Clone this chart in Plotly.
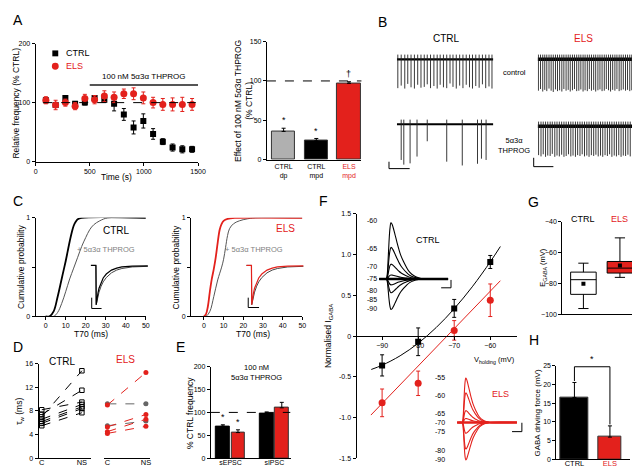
import plotly.graph_objects as go

W, H = 640, 468
RED = '#e3211c'
GRAY = '#7f7f7f'
FONT = 'Liberation Sans, Arial, sans-serif'

# ---------------- DATA ----------------
# A (left): relative frequency time course
timeA = [95, 185, 275, 365, 455, 545, 635, 725, 815, 905, 995, 1085, 1175, 1265, 1355, 1445]
ctrlA = [104, 96, 108, 98, 100, 108, 105, 98, 80, 58, 69, 47, 34, 24, 21, 21]
ctrlA_err = [4, 4, 3, 4, 4, 4, 4, 12, 10, 11, 12, 9, 5, 6, 6, 5]
elsA = [104, 96, 100, 94, 107, 105, 111, 109, 115, 115, 108, 100, 97, 97, 97, 97]
elsA_err = [6, 8, 6, 6, 7, 7, 9, 9, 8, 10, 10, 9, 10, 11, 12, 10]

# A (right): effect of THPROG
effect_cats = ['CTRL<br>dp', 'CTRL<br>mpd', '<span style="color:%s">ELS<br>mpd</span>' % RED]
effect_vals = [36, 24, 97]
effect_err = [4, 3, 2]
effect_marks = ['*', '*', '†']

# B: spike times (s) and trough depths (mV, relative to baseline)
ctrl_ctl_t = [0.10, 0.45, 0.82, 1.13, 1.47, 1.82, 2.16, 2.50, 2.84, 3.15, 3.49, 3.84, 4.18, 4.49, 4.83,
              5.17, 5.51, 5.82, 6.16, 6.51, 6.85, 7.19, 7.53, 7.84, 8.18, 8.53, 8.87, 9.21, 9.55, 9.86]
ctrl_ctl_d = [-6.8, -6.2, -6.9, -5.8, -6.6, -6.9, -6.0, -6.7, -6.5, -5.9, -6.8, -6.3, -6.9, -6.0, -6.6,
              -6.8, -5.7, -6.5, -6.9, -6.2, -6.8, -6.0, -6.6, -6.9, -6.3, -6.7, -5.9, -6.8, -6.4, -6.9]
ctrl_thp_t = [0.45, 0.72, 1.37, 2.09, 3.15, 5.17, 6.78, 8.36, 8.77, 9.25]
ctrl_thp_d = [-8.4, -9.5, -9.2, -7.6, -4.0, -8.8, -9.7, -9.3, -8.1, -8.4]
els_ctl_t = [0.08, 0.30, 0.53, 0.74, 0.95, 1.18, 1.40, 1.62, 1.85, 2.06, 2.28, 2.51, 2.72, 2.95, 3.17,
             3.38, 3.61, 3.82, 4.05, 4.27, 4.48, 4.71, 4.92, 5.15, 5.36, 5.58, 5.81, 6.02, 6.25, 6.46,
             6.68, 6.91, 7.12, 7.35, 7.56, 7.78, 8.01, 8.22, 8.45, 8.66, 8.88, 9.11, 9.32, 9.55, 9.76]
els_ctl_d = [-7.4, -7.0, -7.6, -7.2, -7.5, -6.9, -7.4, -7.7, -7.1, -7.5, -7.3, -7.6, -7.0, -7.4, -7.2,
             -7.6, -7.3, -7.0, -7.5, -7.4, -7.1, -7.6, -7.3, -7.5, -7.0, -7.4, -7.2, -7.6, -7.3, -7.1,
             -7.5, -7.4, -7.0, -7.3, -7.6, -7.2, -7.4, -7.0, -7.5, -7.3, -7.1, -7.4, -7.2, -7.5, -7.3]
els_thp_t = [0.10, 0.35, 0.58, 0.82, 1.05, 1.30, 1.52, 1.78, 2.01, 2.25, 2.49, 2.73, 2.96, 3.20, 3.44,
             3.67, 3.92, 4.15, 4.39, 4.62, 4.86, 5.10, 5.33, 5.57, 5.81, 6.04, 6.28, 6.52, 6.75, 6.99,
             7.23, 7.46, 7.70, 7.94, 8.17, 8.41, 8.65, 8.88, 9.12, 9.36, 9.60]
els_thp_d = [-6.8, -7.1, -6.6, -7.2, -6.9, -7.0, -6.5, -7.2, -6.9, -7.1, -6.7, -7.2, -7.0, -6.6, -7.1,
             -6.9, -7.2, -6.8, -7.0, -6.6, -7.1, -6.9, -7.2, -6.8, -7.0, -6.7, -7.1, -6.9, -7.2, -6.8,
             -7.0, -6.6, -7.2, -6.9, -7.1, -6.8, -7.2, -6.9, -7.0, -6.7, -7.1]

# C: cumulative T70 distributions
c_ctrl_t = [0, 2, 4, 6, 8, 9, 10, 11, 12, 13, 14, 15, 16, 18, 50]
c_ctrl_p = [0, 0, 0.05, 0.2, 0.38, 0.47, 0.56, 0.66, 0.76, 0.85, 0.92, 0.96, 0.985, 1, 1]
c_ctrl_thp_t = [0, 4, 6, 8, 10, 12, 14, 16, 18, 20, 22, 24, 27, 31, 50]
c_ctrl_thp_p = [0, 0, 0.04, 0.13, 0.25, 0.38, 0.49, 0.6, 0.71, 0.8, 0.88, 0.93, 0.97, 1, 1]
c_els_t = [0, 1, 2, 3, 4, 5, 6, 7, 8, 9, 10, 12, 16, 50]
c_els_p = [0, 0.02, 0.1, 0.25, 0.38, 0.48, 0.6, 0.75, 0.88, 0.94, 0.97, 0.99, 1, 1]
c_els_thp_t = [0, 1, 3, 5, 7, 9, 10, 11, 12, 13, 15, 18, 22, 26, 50]
c_els_thp_p = [0, 0, 0.05, 0.2, 0.37, 0.5, 0.58, 0.7, 0.82, 0.89, 0.94, 0.97, 0.99, 1, 1]
# C insets: normalised averaged events
ev_t = [0, 5, 5.3, 6, 7, 8, 10, 12, 15, 20, 25, 30, 40, 50, 60]
ev_ctl = [0, 0, -1, -0.85, -0.7, -0.58, -0.42, -0.32, -0.22, -0.12, -0.07, -0.04, -0.02, -0.01, -0.01]
ev_thp = [0, 0, -1, -0.9, -0.78, -0.68, -0.53, -0.42, -0.31, -0.19, -0.12, -0.08, -0.04, -0.02, -0.02]

# D: tau_w (ms), control (C) vs neurosteroid (NS)
d_ctrl_c = [7.0, 7.4, 8.2, 6.6, 6.2, 5.9, 5.5]
d_ctrl_ns = [14.8, 11.5, 9.5, 9.1, 8.7, 8.4, 7.7]
d_els_red_c = [9.0, 5.3, 4.5, 4.2]
d_els_red_ns = [14.5, 7.4, 6.6, 5.4]
d_els_gray_c = [9.2, 5.5]
d_els_gray_ns = [9.2, 6.3]

# E: % CTRL frequency
e_cats = ['sEPSC', 'sIPSC']
e_ctrl = [70, 98]
e_ctrl_err = [3, 3]
e_els = [56, 110]
e_els_err = [6, 12]

# F: I-V relation
f_v = [-90, -80, -70, -60]
f_ctrl = [-0.36, -0.07, 0.34, 0.91]
f_ctrl_err = [0.13, 0.17, 0.11, 0.08]
f_els = [-0.82, -0.58, 0.07, 0.44]
f_els_err = [0.17, 0.15, 0.12, 0.2]
fit_v = [-93, -90, -85, -80, -75, -70, -65, -60, -57.2]
fit_ctrl = [-0.41, -0.358, -0.242, -0.088, 0.105, 0.336, 0.605, 0.912, 1.10]
fit_els_v = [-93.1, -57.2]
fit_els = [-0.97, 0.68]
# F insets: GABA responses at several holding potentials
resp_t = [0, 7, 8, 9, 10, 11, 12, 13, 14, 16, 18, 20, 22, 25, 28, 31, 35, 40, 45, 90]
resp_w = [0, 0, 0.05, 0.3, 0.65, 0.9, 1.0, 0.98, 0.93, 0.8, 0.66, 0.53, 0.42, 0.3, 0.2, 0.12, 0.06, 0.02, 0, 0]
ctrl_hold = ['-60', '-65', '-70', '-75', '-80', '-85', '-90']
ctrl_amp = [57, 32, 15, 4, -6, -14, -31]
els_hold = ['-55', '-60', '-65', '-70', '-75', '-80', '-90']
els_amp = [45, 30, 12, 4, -11, -27, -38]

# G: E_GABA box plots
g_q1 = [-87, -73.2]
g_med = [-77.5, -70]
g_q3 = [-72.6, -65.7]
g_lo = [-96.2, -76]
g_hi = [-66.8, -50.4]
g_mean = [-80.2, -68.3]

# H: GABA driving force
h_cats = ['CTRL', 'ELS']
h_vals = [16.5, 5.9]
h_err = [4, 3]

# ---------------- HELPERS ----------------
def px(x):
    return x / W

def py(y):
    return 1 - y / H

fig = go.Figure()
layout = {}
annotations = []
shapes = []
n_ax = [0]

tickfont = dict(size=7, family=FONT, color='black')
base_axis = dict(showline=True, linecolor='black', linewidth=1, ticks='outside', ticklen=3,
                 tickwidth=1, tickcolor='black', showgrid=False, zeroline=False, tickfont=tickfont)


def new_axes(x0, x1, ytop, ybot, xkw=None, ykw=None):
    n_ax[0] += 1
    n = n_ax[0]
    xk = 'xaxis' if n == 1 else 'xaxis%d' % n
    yk = 'yaxis' if n == 1 else 'yaxis%d' % n
    xa = dict(base_axis)
    ya = dict(base_axis)
    xa.update(domain=[px(x0), px(x1)], anchor='y' if n == 1 else 'y%d' % n)
    ya.update(domain=[py(ybot), py(ytop)], anchor='x' if n == 1 else 'x%d' % n)
    if xkw:
        xa.update(xkw)
    if ykw:
        ya.update(ykw)
    layout[xk] = xa
    layout[yk] = ya
    return ('x' if n == 1 else 'x%d' % n), ('y' if n == 1 else 'y%d' % n)


def ann(text, x, y, size=8.5, color='black', xanchor='center', yanchor='middle', angle=0, ref=None):
    d = dict(text=text, showarrow=False, font=dict(size=size, family=FONT, color=color),
             xanchor=xanchor, yanchor=yanchor, textangle=angle)
    if ref:
        d.update(xref=ref[0], yref=ref[1], x=x, y=y)
    else:
        d.update(xref='paper', yref='paper', x=px(x), y=py(y))
    annotations.append(d)


def pline(x0, y0, x1, y1, color='black', width=1):
    shapes.append(dict(type='line', xref='paper', yref='paper', x0=px(x0), y0=py(y0), x1=px(x1),
                       y1=py(y1), line=dict(color=color, width=width)))


hidden = dict(visible=False, showline=False, ticks='')

# panel letters
for L, x, y in [('A', 8, 8), ('B', 378, 10), ('C', 8, 192), ('D', 8, 340), ('E', 173, 340),
                ('F', 318, 192), ('G', 532, 193), ('H', 532, 333)]:
    ann(L, x, y, size=14)

# ---------------- A left ----------------
xa, ya = new_axes(26, 191, 32, 152,
                  dict(range=[0, 1500], tickvals=[0, 500, 1000, 1500]),
                  dict(range=[0, 200], tickvals=[0, 100, 200]))
fig.add_trace(go.Scatter(x=timeA, y=ctrlA, mode='markers', name='CTRL',
                         marker=dict(symbol='square', size=6, color='black'),
                         error_y=dict(array=ctrlA_err, color='black', thickness=1, width=2),
                         xaxis=xa, yaxis=ya))
fig.add_trace(go.Scatter(x=timeA, y=elsA, mode='markers', name='ELS',
                         marker=dict(symbol='circle', size=7, color=RED),
                         error_y=dict(array=elsA_err, color=RED, thickness=1, width=2),
                         xaxis=xa, yaxis=ya))
shapes.append(dict(type='line', xref=xa, yref=ya, x0=70, x1=1480, y0=100, y1=100,
                   line=dict(color='black', width=1, dash='dash')))
shapes.append(dict(type='line', xref=xa, yref=ya, x0=500, x1=1500, y0=130, y1=130,
                   line=dict(color='#555555', width=2)))
ann('100 nM 5α3α THPROG', 1000, 133, size=8, yanchor='bottom', ref=(xa, ya))
ann('Relative frequency (% CTRL)', 6, 92, angle=-90)
ann('Time (s)', 108, 167)
# legend (drawn manually)
shapes.append(dict(type='rect', xref='paper', yref='paper', x0=px(43), x1=px(49), y0=py(45), y1=py(39),
                   fillcolor='black', line=dict(width=0)))
shapes.append(dict(type='circle', xref='paper', yref='paper', x0=px(42.5), x1=px(49.5), y0=py(58.5),
                   y1=py(51.5), fillcolor=RED, line=dict(width=0)))
ann('CTRL', 55, 42, size=9, xanchor='left')
ann('ELS', 55, 55, size=9, xanchor='left', color=RED)

# ---------------- A right ----------------
xa, ya = new_axes(261, 357, 30, 150,
                  dict(range=[-0.51, 2.38], tickvals=[0, 1, 2], ticktext=effect_cats, ticks=''),
                  dict(range=[0, 150], tickvals=[0, 50, 100, 150]))
fig.add_trace(go.Bar(x=[0, 1, 2], y=effect_vals, width=0.72, showlegend=False,
                     marker=dict(color=['#b0b0b0', 'black', RED], line=dict(color='#333333', width=1)),
                     error_y=dict(type='data', array=effect_err, arrayminus=[0, 0, 0], symmetric=False,
                                  color='black', thickness=1, width=2),
                     xaxis=xa, yaxis=ya))
for i, (v, e, m) in enumerate(zip(effect_vals, effect_err, effect_marks)):
    ann(m, i, v + e + 1, size=9, yanchor='bottom', ref=(xa, ya))
shapes.append(dict(type='line', xref=xa, yref=ya, x0=-0.51, x1=2.53, y0=100, y1=100,
                   line=dict(color='black', width=1, dash='dash')))
ann('Effect of 100 nM 5α3α THPROG<br>(% CTRL)', 237, 90, size=8.5, angle=-90)

# ---------------- B ----------------
def spike_trace(times, depths, up, xa, ya, base_w):
    xs, ys = [], []
    for t, d in zip(times, depths):
        xs += [t, t, None]
        ys += [up, d, None]
    fig.add_trace(go.Scatter(x=[0, 10], y=[0, 0], mode='lines', line=dict(color='black', width=base_w),
                             showlegend=False, xaxis=xa, yaxis=ya, hoverinfo='skip'))
    fig.add_trace(go.Scatter(x=xs, y=ys, mode='lines', line=dict(color='#222222', width=0.9),
                             showlegend=False, xaxis=xa, yaxis=ya, hoverinfo='skip'))

for (x0, x1, base, times, depths, bw) in [
        (393, 491, 48, ctrl_ctl_t, ctrl_ctl_d, 2.2),
        (536, 634, 48, els_ctl_t, els_ctl_d, 3.5),
        (393, 491, 114, ctrl_thp_t, ctrl_thp_d, 2.0),
        (536, 634, 116, els_thp_t, els_thp_d, 3.5)]:
    xa, ya = new_axes(x0, x1, base - 6.9, base - 6.9 + 50, dict(hidden, range=[0, 10]),
                      dict(hidden, range=[-10, 1.6]))
    spike_trace(times, depths, 1.1, xa, ya, bw)
ann('CTRL', 443, 27, size=10)
ann('ELS', 583, 27, size=10, color=RED)
ann('control', 512, 61, size=7.5)
ann('5α3α<br>THPROG', 512, 136, size=7.5)
pline(385, 159, 406, 159)
pline(385, 152, 385, 159)
pline(532, 157, 552, 157)
pline(532, 148, 532, 157)

# ---------------- C ----------------
def cdf_panel(x0, x1, xr, curves):
    xa, ya = new_axes(x0, x1, 209, 309,
                      dict(range=xr, tickvals=[0, 10, 20, 30, 40, 50], ticklabelstandoff=-1),
                      dict(range=[0, 1], tickvals=[0, 1],
                           minor=dict(tickmode='array', tickvals=[0.5], ticks='outside', ticklen=3,
                                      tickcolor='black', tickwidth=1, showgrid=False)))
    for tx, p, col, w in curves:
        fig.add_trace(go.Scatter(x=tx, y=p, mode='lines', line=dict(color=col, width=w, shape='spline'),
                                 showlegend=False, xaxis=xa, yaxis=ya))

cdf_panel(26, 138, [-5, 50], [(c_ctrl_thp_t, c_ctrl_thp_p, '#555555', 1),
                              (c_ctrl_t, c_ctrl_p, 'black', 1.8)])
cdf_panel(184, 297, [-6.5, 50], [(c_els_thp_t, c_els_thp_p, '#555555', 1),
                                 (c_els_t, c_els_p, RED, 1.8)])
ann('Cumulative probability', 11, 259, angle=-90)
ann('Cumulative probability', 169, 259, angle=-90)
ann('T70 (ms)', 82, 327)
ann('T70 (ms)', 247, 327)
ann('CTRL', 108, 222, size=10)
ann('ELS', 280, 220, size=10, color=RED)
ann('+ 5α3α THPROG', 98, 241, size=7.5, color=GRAY)
ann('+ 5α3α THPROG', 248, 241, size=7.5, color=GRAY)

def event_inset(x0, x1, c1, c2):
    xa, ya = new_axes(x0, x1, 256, 298, dict(hidden, range=[0, 55]), dict(hidden, range=[-1.02, 0.03]))
    fig.add_trace(go.Scatter(x=ev_t, y=ev_thp, mode='lines', line=dict(color=c2, width=1),
                             showlegend=False, xaxis=xa, yaxis=ya))
    fig.add_trace(go.Scatter(x=ev_t, y=ev_ctl, mode='lines', line=dict(color=c1, width=1.2),
                             showlegend=False, xaxis=xa, yaxis=ya))

event_inset(82, 140, 'black', '#444444')
event_inset(240, 298, RED, '#444444')
pline(83, 301, 93, 301)
pline(83, 290, 83, 301)
pline(242, 300, 253, 300)
pline(242, 290, 242, 300)

# ---------------- D ----------------
def pairs(c, ns):
    xs, ys = [], []
    for a, b in zip(c, ns):
        xs += [0, 1, None]
        ys += [a, b, None]
    return xs, ys

dxfont = dict(size=7.5, family=FONT, color='black')
xa, ya = new_axes(29, 82, 357, 453,
                  dict(range=[-0.08, 1.22], tickvals=[0, 1], ticktext=['C', 'NS'], ticks='',
                       tickfont=dxfont, ticklabelstandoff=-3),
                  dict(range=[0, 16], tickvals=[0, 4, 8, 12, 16]))
xs, ys = pairs(d_ctrl_c, d_ctrl_ns)
fig.add_trace(go.Scatter(x=xs, y=ys, mode='lines+markers', showlegend=False,
                         line=dict(color='black', width=1, dash='dash'),
                         marker=dict(symbol='square-open', size=4.5, color='black', line=dict(width=1)),
                         xaxis=xa, yaxis=ya))
xa, ya = new_axes(95, 142, 357, 453,
                  dict(range=[-0.1, 1.1], tickvals=[0, 1], ticktext=['C', 'NS'], ticks='',
                       tickfont=dxfont, ticklabelstandoff=-3),
                  dict(hidden, range=[0, 16]))
xs, ys = pairs(d_els_gray_c, d_els_gray_ns)
fig.add_trace(go.Scatter(x=xs, y=ys, mode='lines+markers', showlegend=False,
                         line=dict(color='#666666', width=1, dash='dash'),
                         marker=dict(symbol='circle', size=5, color='#666666'),
                         xaxis=xa, yaxis=ya))
xs, ys = pairs(d_els_red_c, d_els_red_ns)
fig.add_trace(go.Scatter(x=xs, y=ys, mode='lines+markers', showlegend=False,
                         line=dict(color=RED, width=1, dash='dash'),
                         marker=dict(symbol='circle', size=5, color=RED),
                         xaxis=xa, yaxis=ya))
ann('τ<sub>w</sub> (ms)', 10, 405, angle=-90)
ann('CTRL', 53, 355, size=10)
ann('ELS', 117, 353, size=10, color=RED)

# ---------------- E ----------------
xa, ya = new_axes(204, 285, 360, 453,
                  dict(range=[-0.45, 1.37], tickvals=[0, 1], ticktext=e_cats, ticks='', ticklabelstandoff=-3),
                  dict(range=[0, 200], tickvals=[0, 50, 100, 150, 200]))
fig.add_trace(go.Bar(x=[0, 1], y=e_ctrl, width=0.31, offset=-0.33, showlegend=False,
                     marker=dict(color='black', line=dict(color='black', width=1)),
                     error_y=dict(type='data', array=e_ctrl_err, arrayminus=[0, 0], symmetric=False,
                                  color='black', thickness=1, width=2),
                     xaxis=xa, yaxis=ya))
fig.add_trace(go.Bar(x=[0, 1], y=e_els, width=0.30, offset=0.02, showlegend=False,
                     marker=dict(color=RED, line=dict(color='#333333', width=1)),
                     error_y=dict(type='data', array=e_els_err, arrayminus=[0, 0], symmetric=False,
                                  color='black', thickness=1, width=2),
                     xaxis=xa, yaxis=ya))
shapes.append(dict(type='line', xref=xa, yref=ya, x0=-0.45, x1=1.37, y0=100, y1=100,
                   line=dict(color='black', width=1, dash='dash')))
ann('*', -0.175, e_ctrl[0] + e_ctrl_err[0] + 1, size=9, yanchor='bottom', ref=(xa, ya))
ann('*', 0.17, e_els[0] + e_els_err[0] + 1, size=9, yanchor='bottom', ref=(xa, ya))
ann('100 nM<br>5α3α THPROG', 250, 366, size=7.5)
ann('% CTRL frequency', 183, 407, angle=-90)

# ---------------- F ----------------
xa, ya = new_axes(352, 515, 205, 453,
                  dict(range=[-97.1, -52.6], tickvals=[-90, -80, -70, -60], anchor='free', position=py(329)),
                  dict(range=[-1.5, 1.5], tickvals=[-1.5, -1, -0.5, 0, 0.5, 1, 1.5],
                       ticktext=['-1.5', '-1.0', '-0.5', '0', '0.5', '1.0', '1.5']))
fig.add_trace(go.Scatter(x=fit_v, y=fit_ctrl, mode='lines', line=dict(color='black', width=1, shape='spline'),
                         showlegend=False, xaxis=xa, yaxis=ya))
fig.add_trace(go.Scatter(x=fit_els_v, y=fit_els, mode='lines', line=dict(color=RED, width=1),
                         showlegend=False, xaxis=xa, yaxis=ya))
fig.add_trace(go.Scatter(x=f_v, y=f_ctrl, mode='markers', showlegend=False,
                         marker=dict(symbol='square', size=6, color='black'),
                         error_y=dict(array=f_ctrl_err, color='black', thickness=1, width=2),
                         xaxis=xa, yaxis=ya))
fig.add_trace(go.Scatter(x=f_v, y=f_els, mode='markers', showlegend=False,
                         marker=dict(symbol='circle', size=7, color=RED),
                         error_y=dict(array=f_els_err, color=RED, thickness=1, width=2),
                         xaxis=xa, yaxis=ya))
ann('V<sub>holding</sub> (mV)', 492, 353, size=7.5)
ann('Normalised I<sub>GABA</sub>', 323, 329, angle=-90)

def resp_inset(x0, x1, ytop, ybot, xr, yr, amps, col):
    xa, ya = new_axes(x0, x1, ytop, ybot, dict(hidden, range=xr), dict(hidden, range=yr))
    for a in amps:
        fig.add_trace(go.Scatter(x=resp_t, y=[a * w for w in resp_w], mode='lines',
                                 line=dict(color=col, width=1.1, shape='spline'),
                                 showlegend=False, xaxis=xa, yaxis=ya))
    fig.add_trace(go.Scatter(x=[resp_t[0], resp_t[-1]], y=[0, 0], mode='lines',
                             line=dict(color=col, width=2.5), showlegend=False, xaxis=xa, yaxis=ya))

resp_inset(375, 445, 205, 305, [0, 70], [-34, 66], ctrl_amp, 'black')
resp_inset(445, 515, 365, 460, [-12.4, 82.6], [-43.3, 51.7], els_amp, RED)
for lab, yy in zip(ctrl_hold, [212, 240, 258, 271, 283, 292, 301]):
    ann(lab, 375, yy, size=7, xanchor='right')
for lab, yy in zip(els_hold, [371, 389, 408, 417, 426, 445, 454]):
    ann(lab, 444, yy, size=7, xanchor='right')
ann('CTRL', 425, 231, size=9)
ann('ELS', 498, 388, size=9, color=RED)
pline(448, 272, 448, 280)
pline(438, 280, 448, 280)
pline(520, 417, 520, 426)
pline(510, 426, 520, 426)

# ---------------- G ----------------
xa, ya = new_axes(561, 640, 213, 307,
                  dict(range=[-0.58, 1.55], showticklabels=False, ticks=''),
                  dict(range=[-100, -40], tickvals=[-100, -80, -60, -40]))
for i, col in enumerate(['white', RED]):
    fig.add_trace(go.Box(x=[i], q1=[g_q1[i]], median=[g_med[i]], q3=[g_q3[i]], lowerfence=[g_lo[i]],
                         upperfence=[g_hi[i]], orientation='v', fillcolor=col, width=0.7, whiskerwidth=0.4,
                         line=dict(color='black', width=1), boxpoints=False, showlegend=False,
                         xaxis=xa, yaxis=ya))
fig.add_trace(go.Scatter(x=[0, 1], y=g_mean, mode='markers', marker=dict(symbol='square', size=4, color='black'),
                         showlegend=False, xaxis=xa, yaxis=ya))
ann('CTRL', 582, 210, size=9)
ann('ELS', 619, 210, size=9, color=RED)
ann('E<sub>GABA</sub> (mV)', 542, 260, size=7.5, angle=-90)

# ---------------- H ----------------
xa, ya = new_axes(555, 630, 359, 454,
                  dict(range=[-0.51, 1.57], tickvals=[0, 1], ticks='', ticklabelstandoff=-3,
                       ticktext=[h_cats[0], '<span style="color:%s">%s</span>' % (RED, h_cats[1])],
                       tickfont=dict(size=7.5, family=FONT, color='black')),
                  dict(range=[0, 25], tickvals=[0, 5, 10, 15, 20, 25]))
fig.add_trace(go.Bar(x=[0, 1], y=h_vals, width=[0.8, 0.64], showlegend=False,
                     marker=dict(color=['black', RED], line=dict(color='#333333', width=1)),
                     error_y=dict(type='data', array=h_err, arrayminus=[0, 0], symmetric=False,
                                  color='black', thickness=1, width=2),
                     xaxis=xa, yaxis=ya))
for x0, y0, x1, y1 in [(0, h_vals[0] + h_err[0] + 0.4, 0, 24.7), (0, 24.7, 1, 24.7),
                       (1, 24.7, 1, h_vals[1] + h_err[1] + 0.4)]:
    shapes.append(dict(type='line', xref=xa, yref=ya, x0=x0, y0=y0, x1=x1, y1=y1,
                       line=dict(color='black', width=1)))
ann('*', 0.5, 25.0, size=9, yanchor='bottom', ref=(xa, ya))
ann('GABA driving force (mV)', 536, 407, size=8, angle=-90)

layout.update(
    width=W, height=H, margin=dict(l=0, r=0, t=0, b=0), paper_bgcolor='white', plot_bgcolor='white',
    font=dict(family=FONT, size=8, color='black'),
    showlegend=False,
    annotations=annotations, shapes=shapes, bargap=0,
)
fig.update_layout(layout)
fig.write_html('out.html')
